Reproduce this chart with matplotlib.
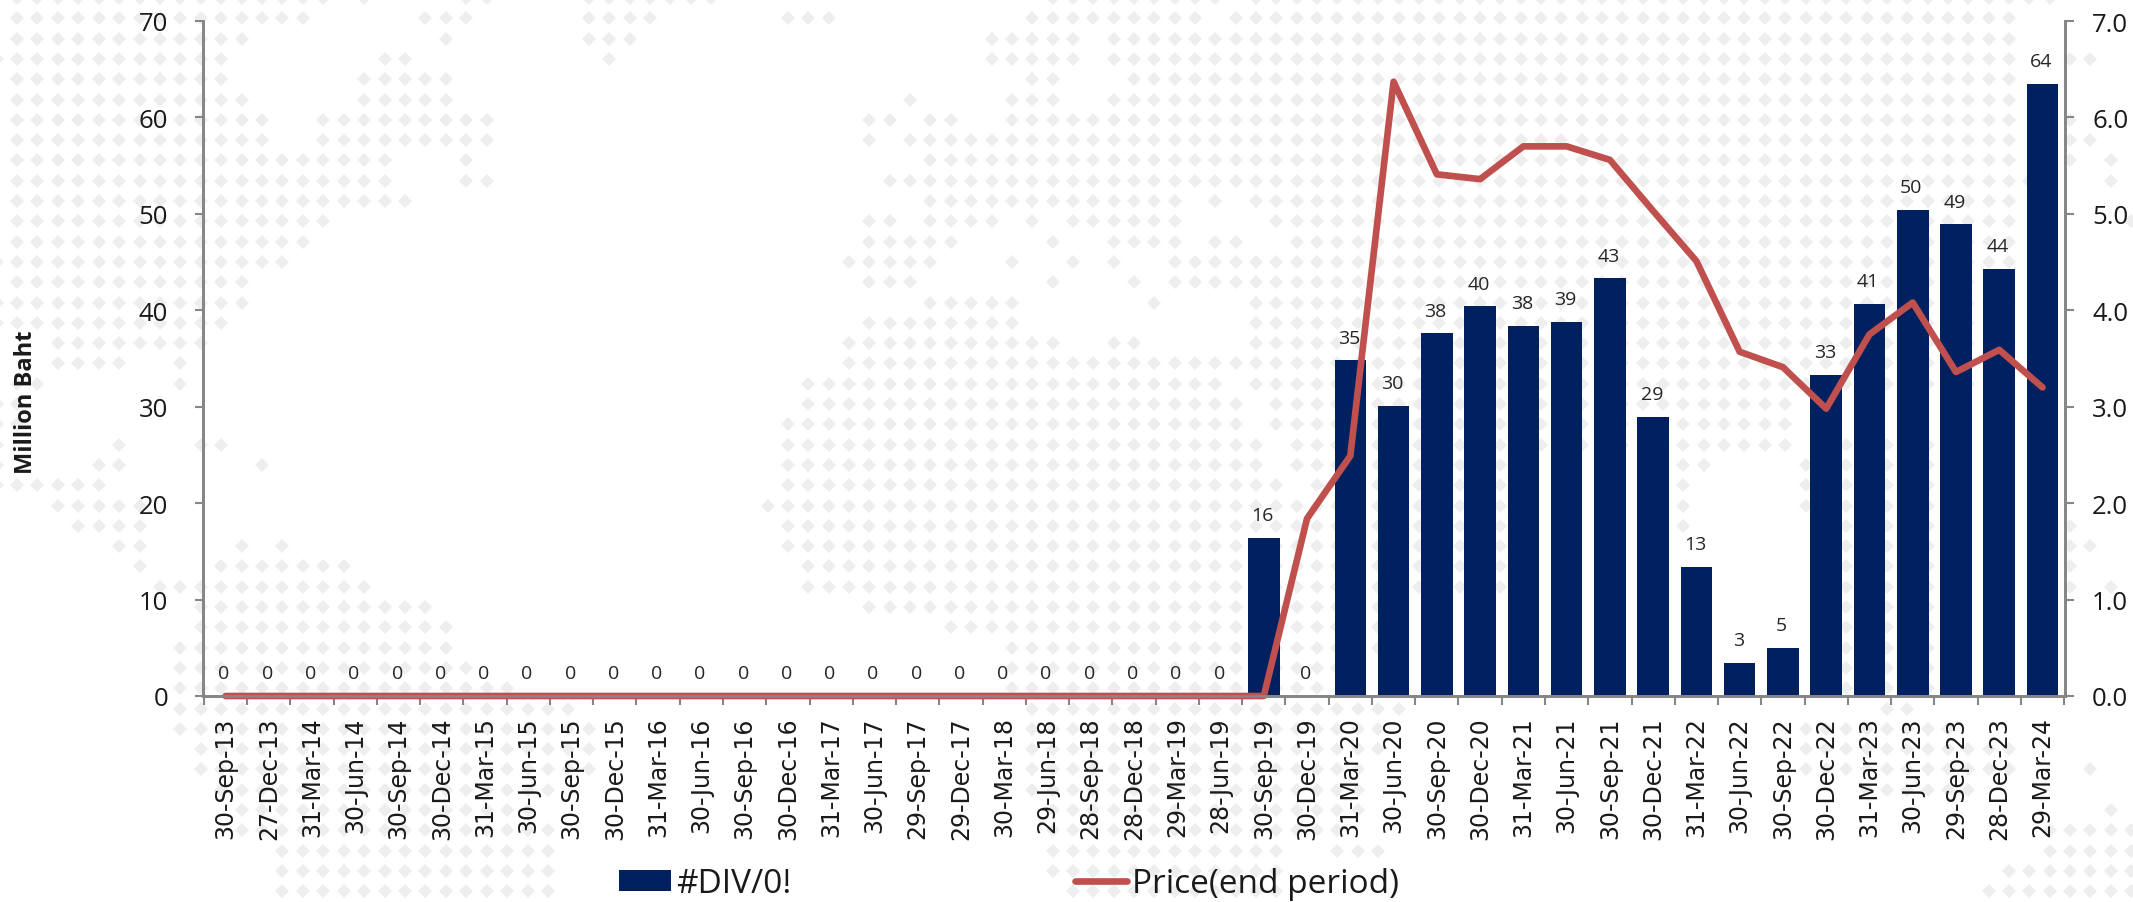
from matplotlib import pyplot as plt

dates = ['30-Sep-13', '27-Dec-13', '31-Mar-14', '30-Jun-14', '30-Sep-14', '30-Dec-14', '31-Mar-15', '30-Jun-15',
         '30-Sep-15', '30-Dec-15', '31-Mar-16', '30-Jun-16', '30-Sep-16', '30-Dec-16', '31-Mar-17', '30-Jun-17',
         '29-Sep-17', '29-Dec-17', '30-Mar-18', '29-Jun-18', '28-Sep-18', '28-Dec-18', '29-Mar-19', '28-Jun-19',
         '30-Sep-19', '30-Dec-19', '31-Mar-20', '30-Jun-20', '30-Sep-20', '30-Dec-20', '31-Mar-21', '30-Jun-21',
         '30-Sep-21', '30-Dec-21', '31-Mar-22', '30-Jun-22', '30-Sep-22', '30-Dec-22', '31-Mar-23', '30-Jun-23',
         '29-Sep-23', '28-Dec-23', '29-Mar-24']

amounts = [0] * 24 + [16.4, 0, 34.8, 30.1, 37.6, 40.4, 38.4, 38.8, 43.3, 28.9, 13.4, 3.4, 4.95, 33.3, 40.7,
                      50.4, 48.9, 44.3, 63.5]

prices = [0] * 25 + [1.84, 2.49, 6.37, 5.41, 5.36, 5.70, 5.70, 5.56, 5.03, 4.51, 3.57, 3.41, 2.98, 3.75, 4.08,
                     3.36, 3.59, 3.20]

left_ticks = [0, 10, 20, 30, 40, 50, 60, 70]
right_ticks = [0, 1, 2, 3, 4, 5, 6, 7]

# background dotted map, row number -> runs of grid columns
map_west = {
    0: [(0, 15), (17, 17), (22, 23), (28, 34)], 1: [(0, 14), (20, 22), (28, 31)], 2: [(0, 11), (21, 21), (28, 30)],
    3: [(-1, 10), (18, 19), (29, 29)], 4: [(0, 10), (17, 21)], 5: [(0, 11), (17, 21)], 6: [(0, 12), (15, 23)],
    7: [(0, 12), (15, 23)], 8: [(0, 18), (22, 22)], 9: [(0, 18), (22, 23)], 10: [(0, 19)], 11: [(0, 15)],
    12: [(0, 14)], 13: [(-1, 13)], 14: [(0, 11)], 15: [(-1, 11)], 16: [(-1, 10)], 17: [(2, 9)],
    18: [(2, 5), (8, 8)], 19: [(0, 1), (8, 8)], 20: [(-1, 0)], 21: [(-1, 0)], 22: [(-1, -1), (5, 5), (9, 10)],
    23: [(-1, -1), (4, 5), (12, 12)], 24: [(-1, 4)], 25: [(2, 6)], 26: [(3, 6)], 27: [(5, 6), (11, 11), (13, 13)],
    28: [(6, 6), (10, 16)], 29: [(7, 17)], 30: [(9, 20)], 31: [(9, 21)], 32: [(8, 21)], 33: [(8, 22)],
    34: [(8, 24)], 35: [(8, 27)], 36: [(8, 28)], 37: [(9, 28)], 38: [(9, 28)], 39: [(10, 26)], 40: [(11, 25)],
    41: [(11, 26)], 42: [(13, 26)], 43: [(13, 26)], 44: [(13, 26)],
}
map_east = {
    0: [(13, 21), (23, 62)], 1: [(0, 2), (12, 20), (22, 60)], 2: [(10, 14), (16, 60)],
    3: [(10, 14), (16, 60), (63, 64)], 4: [(12, 13), (17, 60)], 5: [(6, 6), (11, 13), (16, 60)],
    6: [(4, 5), (7, 8), (11, 60), (63, 63)], 7: [(4, 4), (6, 60), (63, 64)], 8: [(7, 60), (63, 63), (65, 65)],
    9: [(5, 61), (65, 65)], 10: [(7, 19), (21, 21), (23, 60)], 11: [(4, 5), (7, 10), (12, 12), (14, 19), (24, 60), (66, 66)],
    12: [(4, 8), (13, 13), (16, 19), (21, 22), (25, 60)], 13: [(3, 7), (11, 11), (14, 14), (16, 16), (19, 60)],
    14: [(4, 6), (13, 13), (17, 17), (19, 60)], 15: [(7, 11), (18, 18), (23, 60)], 16: [(4, 11), (23, 60)],
    17: [(3, 13), (16, 17), (23, 60)], 18: [(3, 60)], 19: [(1, 21), (23, 60)], 20: [(1, 22), (24, 49), (60, 60)],
    21: [(0, 22), (24, 49)], 22: [(0, 23), (25, 49), (52, 57)], 23: [(0, 23), (25, 36), (44, 45), (50, 57)],
    24: [(0, 24), (26, 36), (44, 44), (50, 57)], 25: [(-1, 36), (44, 44), (50, 57)],
    26: [(0, 36), (44, 44), (52, 57), (63, 63)], 27: [(0, 36), (52, 57), (63, 64)], 28: [(1, 36), (52, 57), (63, 63)],
    29: [(1, 36), (52, 56), (63, 63), (65, 65)], 30: [(4, 30), (52, 56)], 31: [(8, 30), (52, 56)],
    32: [(11, 30), (52, 56)], 33: [(11, 28), (52, 56)], 34: [(11, 26), (52, 56)], 35: [(12, 30), (54, 55)],
    36: [(12, 29), (50, 57)], 37: [(12, 29), (50, 60)], 38: [(12, 28), (50, 60), (64, 64)], 39: [(12, 28), (53, 58)],
    40: [(13, 28), (65, 65)], 41: [(13, 27), (62, 66)], 42: [(13, 24), (27, 29), (62, 66)], 43: [(13, 24), (60, 66)],
    44: [(14, 24), (59, 66)],
}


def draw_map(axis, rows, x0, step):
    xs = []
    ys = []
    for row, runs in rows.items():
        for start, end in runs:
            for col in range(start, end + 1):
                xs.append(x0 + col * step)
                ys.append(row * 20.3 - 1)
    axis.plot(xs, ys, 'D', color='#EEEEEE', markersize=6.9, markeredgewidth=0)


navy = '#002060'
red = '#C0504D'
grey = '#868686'

fig = plt.figure(figsize=(21.33, 9.03), dpi=100)

bg = fig.add_axes([0, 0, 1, 1], zorder=0)
bg.set_xlim(0, 2133)
bg.set_ylim(903, 0)
bg.axis('off')
draw_map(bg, map_west, 17, 20.42)
draw_map(bg, map_east, 788, 20.35)

ax = fig.add_axes([203 / 2133, 1 - 697 / 903, 1862 / 2133, 675 / 903], zorder=1)
ax.patch.set_alpha(0)
positions = list(range(len(dates)))
bars = ax.bar(positions, amounts, width=0.73, color=navy, label='#DIV/0!')
for i, value in enumerate(amounts):
    ax.annotate('%.0f' % value, (i, value), xytext=(-1, 16.5), textcoords='offset points', ha='center', va='center',
                family='Open Sans', fontsize=14, color='#262626')

ax.set_xlim(-0.52, len(dates) - 0.48)
ax.set_ylim(0, 70)
ax.set_yticks(left_ticks)
ax.tick_params(axis='y', length=6, width=1.5, color=grey, pad=19, labelsize=18.5, labelcolor='#1A1A1A')
ax.set_xticks([p - 0.5 for p in positions] + [len(dates) - 0.5])
ax.set_xticklabels([])
ax.set_xticks(positions, minor=True)
ax.set_xticklabels(dates, minor=True, rotation=90, family='DejaVu Sans', fontsize=17, color='#1A1A1A')
ax.tick_params(axis='x', which='major', length=6.5, width=1.5, color=grey)
ax.tick_params(axis='x', which='minor', length=0, pad=14.5)
for label in ax.get_yticklabels():
    label.set_family('Open Sans')
ax.set_ylabel('Million Baht', family='Open Sans', fontweight='bold', fontsize=17, color='#1A1A1A')
ax.yaxis.set_label_coords(-0.0885, 0.437)

ax2 = ax.twinx()
ax2.set_zorder(2)
line, = ax2.plot(positions, prices, color=red, linewidth=4.8, solid_capstyle='round', solid_joinstyle='round',
                 clip_on=False, label='Price(end period)')
ax2.set_ylim(0, 7)
ax2.set_yticks(right_ticks)
ax2.set_yticklabels(['%.1f' % t for t in right_ticks], family='Open Sans', fontsize=18.5, color='#1A1A1A')
ax2.tick_params(axis='y', length=6.5, width=1.5, color=grey, pad=13)

for a in (ax, ax2):
    a.spines['top'].set_visible(False)
    for side in ('left', 'right', 'bottom'):
        a.spines[side].set_color(grey)
        a.spines[side].set_linewidth(2)

leg = fig.legend(handles=[bars, line], labels=['#DIV/0!', 'Price(end period)'], ncol=2, frameon=False,
                 loc='center left', bbox_to_anchor=(619 / 2133, 1 - 885 / 903), borderaxespad=0, borderpad=0,
                 prop={'family': 'Open Sans', 'size': 24}, handlelength=1.57, handleheight=0.6, handletextpad=0.15,
                 columnspacing=8.5)
for text in leg.get_texts():
    text.set_color('#1A1A1A')

fig.savefig('out.png', dpi=100)
